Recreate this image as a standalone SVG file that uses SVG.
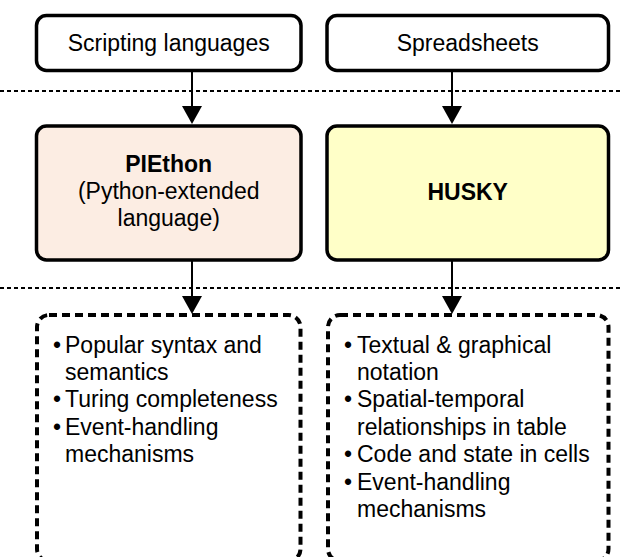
<svg xmlns="http://www.w3.org/2000/svg" width="620" height="557" viewBox="0 0 620 557">
  <defs>
    <marker id="arrow" viewBox="0 0 18 20" refX="6" refY="10" markerWidth="18" markerHeight="20" markerUnits="userSpaceOnUse" orient="auto">
      <path d="M0,0 L18,10 L0,20 Z" fill="#000"/>
    </marker>
  </defs>
  <style>
    .box { stroke: #000; stroke-width: 3.5; }
    .plain { fill: #fff; }
    .peach { fill: #fcede3; }
    .yellow { fill: #ffffc8; }
    .dbox { fill: none; stroke: #000; stroke-width: 4; stroke-dasharray: 8 5; }
    .sep { stroke: #000; stroke-width: 2; stroke-dasharray: 4 3; }
    .conn { stroke: #000; stroke-width: 2; fill: none; marker-end: url(#arrow); }
    text { font-family: "Liberation Sans", Arial, sans-serif; font-size: 23px; fill: #000; }
    .c { text-anchor: middle; }
    .b { font-weight: bold; }
  </style>

  <g id="separators">
    <line class="sep" x1="0" y1="91" x2="620" y2="91"/>
    <line class="sep" x1="0" y1="288" x2="620" y2="288"/>
  </g>

  <g id="scripting">
    <rect class="box plain" x="36.5" y="15.5" width="264.5" height="55" rx="10"/>
    <text class="c" x="168.7" y="51">Scripting languages</text>
  </g>
  <g id="spreadsheets">
    <rect class="box plain" x="327" y="15.5" width="281.5" height="55" rx="10"/>
    <text class="c" x="467.7" y="51">Spreadsheets</text>
  </g>

  <g id="piethon">
    <rect class="box peach" x="36.5" y="126" width="264.5" height="134" rx="10"/>
    <text class="c b" x="168.7" y="172">PIEthon</text>
    <text class="c" x="168.7" y="199">(Python-extended</text>
    <text class="c" x="168.7" y="226">language)</text>
  </g>
  <g id="husky">
    <rect class="box yellow" x="327" y="126" width="281.5" height="134" rx="10"/>
    <text class="c b" x="467.7" y="200">HUSKY</text>
  </g>

  <g id="piethon-features">
    <rect class="dbox" x="37" y="315" width="263.5" height="246" rx="12"/>
    <text x="53" y="353">•</text><text x="65" y="353">Popular syntax and</text>
    <text x="65" y="380">semantics</text>
    <text x="53" y="407">•</text><text x="65" y="407">Turing completeness</text>
    <text x="53" y="435">•</text><text x="65" y="435">Event-handling</text>
    <text x="65" y="462">mechanisms</text>
  </g>
  <g id="husky-features">
    <rect class="dbox" x="328" y="315" width="280.5" height="246" rx="12"/>
    <text x="344" y="353">•</text><text x="357" y="353">Textual &amp; graphical</text>
    <text x="357" y="380">notation</text>
    <text x="344" y="407">•</text><text x="357" y="407">Spatial-temporal</text>
    <text x="357" y="435">relationships in table</text>
    <text x="344" y="462">•</text><text x="357" y="462">Code and state in cells</text>
    <text x="344" y="490">•</text><text x="357" y="490">Event-handling</text>
    <text x="357" y="517">mechanisms</text>
  </g>

  <g id="connectors">
    <line class="conn" x1="192" y1="71" x2="192" y2="112"/>
    <line class="conn" x1="452" y1="71" x2="452" y2="112"/>
    <line class="conn" x1="192" y1="261" x2="192" y2="302"/>
    <line class="conn" x1="452" y1="261" x2="452" y2="302"/>
  </g>
</svg>
